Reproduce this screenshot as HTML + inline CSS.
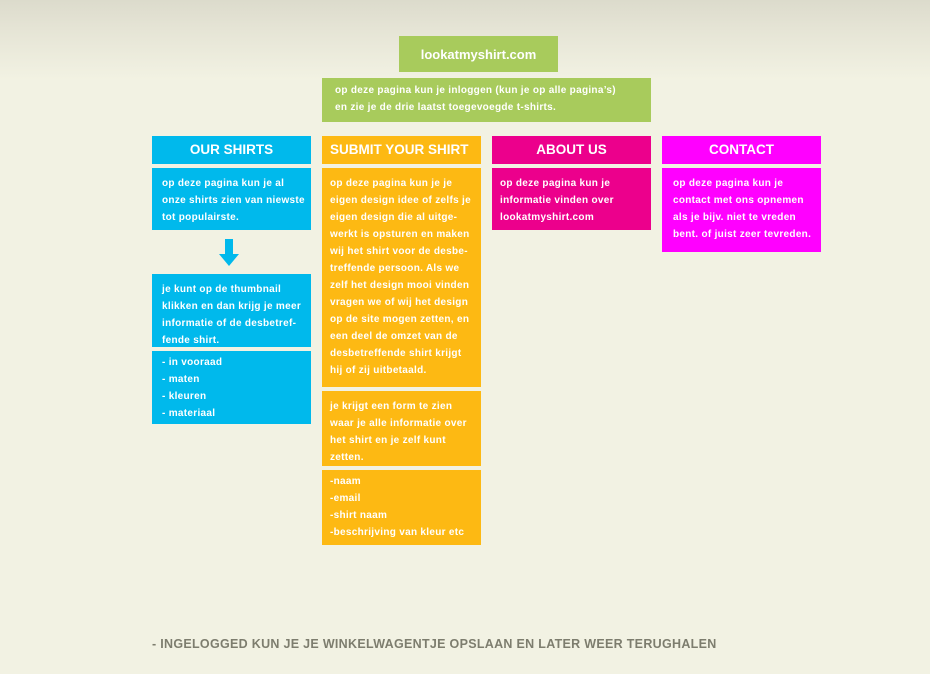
<!DOCTYPE html>
<html><head><meta charset="utf-8"><style>
body{margin:0;width:930px;height:674px;overflow:hidden;background:#f2f2e3;font-family:"Liberation Sans","DejaVu Sans",sans-serif;position:relative}
.bg{position:absolute;left:0;top:0;width:930px;height:80px;background:linear-gradient(#dcdbcc,#e6e5d6 40%,#f2f2e3)}
.b{position:absolute;color:#fff;font-weight:bold;box-sizing:border-box;white-space:nowrap}
.h{height:28px;line-height:28px;text-align:center;font-size:13.5px;width:159px;top:136px}
.t{font-size:10px;line-height:17px;padding:7px 0 0 10px;width:159px;letter-spacing:0.3px}
.g{background:#a8cb5c}.c{background:#00b9ec}.o{background:#fdb913}.m{background:#ec008c}.p{background:#ff00ff}
</style></head><body>
<div class="bg"></div>
<div class="b g" style="left:399px;top:36px;width:159px;height:36px;line-height:38px;text-align:center;font-size:13px">lookatmyshirt.com</div>
<div class="b g t" style="left:322px;top:78px;width:329px;height:44px;padding:4px 0 0 13px">op deze pagina kun je inloggen (kun je op alle pagina’s)<br>en zie je de drie laatst toegevoegde t-shirts.</div>

<div class="b h c" style="left:152px">OUR SHIRTS</div>
<div class="b h o" style="left:322px;text-align:left;padding-left:8px">SUBMIT YOUR SHIRT</div>
<div class="b h m" style="left:492px">ABOUT US</div>
<div class="b h p" style="left:662px">CONTACT</div>

<div class="b c t" style="left:152px;top:168px;height:62px">op deze pagina kun je al<br>onze shirts zien van niewste<br>tot populairste.</div>
<svg style="position:absolute;left:219px;top:239px" width="20" height="28"><rect x="6" y="0" width="8" height="16" fill="#00b9ec"/><polygon points="0,15 20,15 10,27" fill="#00b9ec"/></svg>
<div class="b c t" style="left:152px;top:274px;height:73px">je kunt op de thumbnail<br>klikken en dan krijg je meer<br>informatie of de desbetref-<br>fende shirt.</div>
<div class="b c t" style="left:152px;top:351px;height:73px;padding-top:3px">- in vooraad<br>- maten<br>- kleuren<br>- materiaal</div>

<div class="b o t" style="left:322px;top:168px;height:219px;padding-left:8px">op deze pagina kun je je<br>eigen design idee of zelfs je<br>eigen design die al uitge-<br>werkt is opsturen en maken<br>wij het shirt voor de desbe-<br>treffende persoon. Als we<br>zelf het design mooi vinden<br>vragen we of wij het design<br>op de site mogen zetten, en<br>een deel de omzet van de<br>desbetreffende shirt krijgt<br>hij of zij uitbetaald.</div>
<div class="b o t" style="left:322px;top:391px;height:75px;padding-left:8px">je krijgt een form te zien<br>waar je alle informatie over<br>het shirt en je zelf kunt<br>zetten.</div>
<div class="b o t" style="left:322px;top:470px;height:75px;padding:3px 0 0 8px">-naam<br>-email<br>-shirt naam<br>-beschrijving van kleur etc</div>

<div class="b m t" style="left:492px;top:168px;height:62px;padding-left:8px">op deze pagina kun je<br>informatie vinden over<br>lookatmyshirt.com</div>
<div class="b p t" style="left:662px;top:168px;height:84px;padding-left:11px">op deze pagina kun je<br>contact met ons opnemen<br>als je bijv. niet te vreden<br>bent. of juist zeer tevreden.</div>

<div style="position:absolute;left:152px;top:637px;font-size:12.5px;font-weight:bold;color:#7d7d6e;white-space:nowrap;letter-spacing:0.3px">- INGELOGGED KUN JE JE WINKELWAGENTJE OPSLAAN EN LATER WEER TERUGHALEN</div>
</body></html>
